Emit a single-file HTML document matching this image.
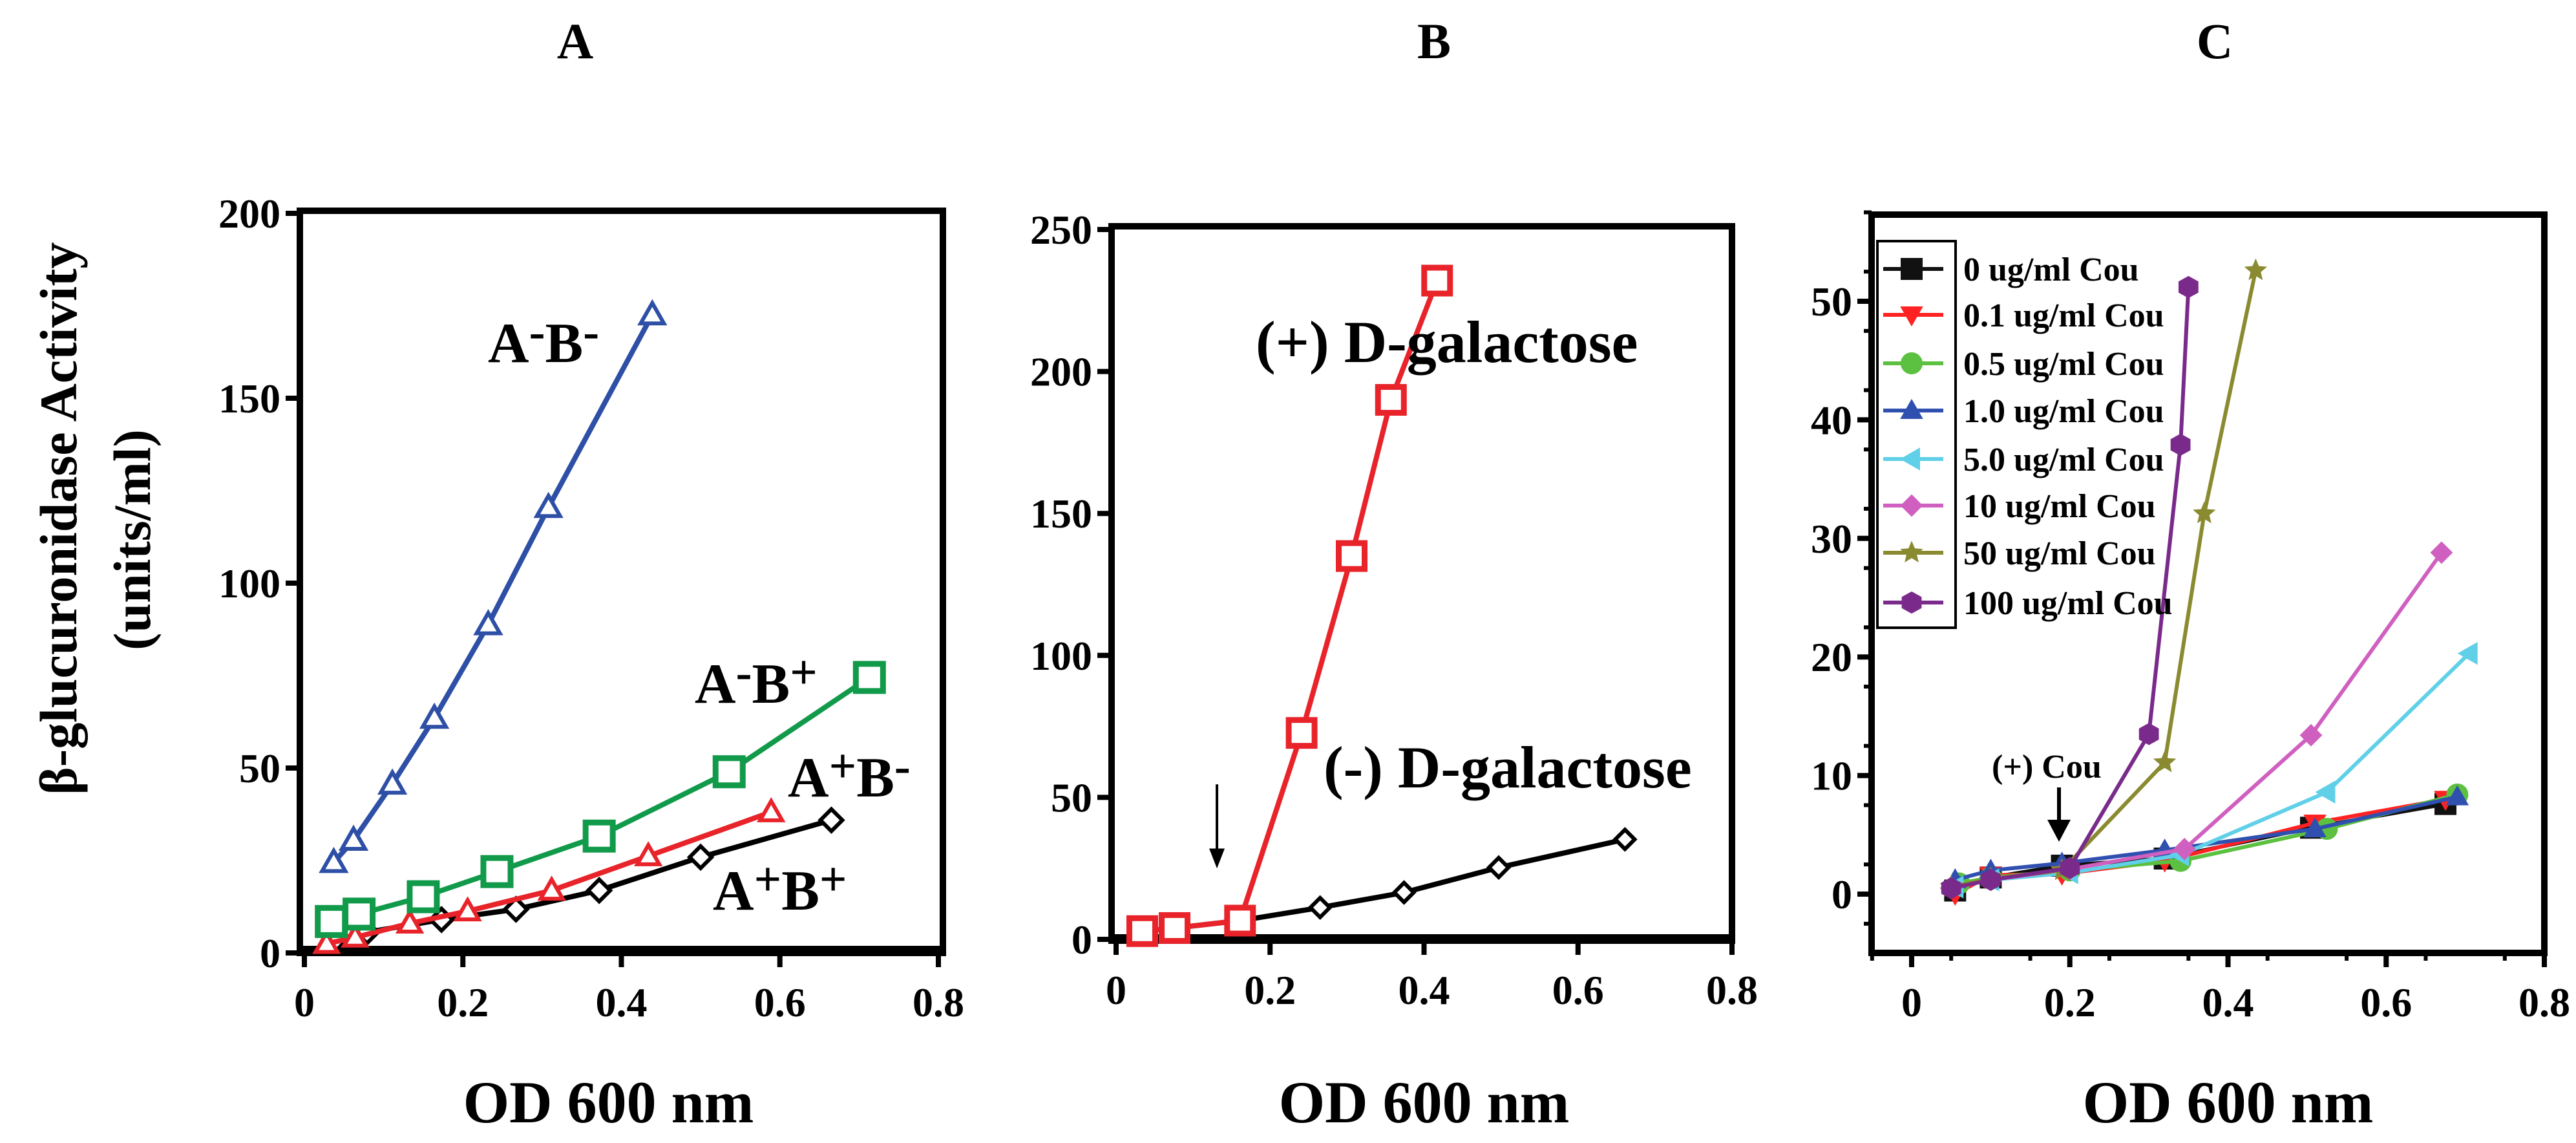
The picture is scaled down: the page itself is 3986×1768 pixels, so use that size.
<!DOCTYPE html>
<html><head><meta charset="utf-8"><style>
html,body{margin:0;padding:0;background:#fff}
svg{display:block}
text{font-family:"Liberation Serif",serif;font-weight:bold;fill:#000}
</style></head><body>
<svg id="fig" width="3986" height="1768" viewBox="0 0 3986 1768" xmlns="http://www.w3.org/2000/svg">
<text x="890" y="90" font-size="78" text-anchor="middle">A</text>
<text x="2219" y="90" font-size="78" text-anchor="middle">B</text>
<text x="3427" y="90" font-size="78" text-anchor="middle">C</text>
<text transform="translate(118,802) rotate(-90)" font-size="82" text-anchor="middle">β-glucuronidase Activity</text>
<text transform="translate(232,835) rotate(-90)" font-size="82" text-anchor="middle">(units/ml)</text>
</svg>
<script>
// Panel A data
const aXTicks = [0, 0.2, 0.4, 0.6, 0.8];
const aYTicks = [0, 50, 100, 150, 200];
const aAmBmX = [0.037, 0.062, 0.111, 0.164, 0.232, 0.308, 0.439];
const aAmBmY = [24.5, 30.5, 45.7, 63.5, 88.8, 120.5, 172.6];
const aAmBpX = [0.034, 0.069, 0.150, 0.243, 0.372, 0.536, 0.713];
const aAmBpY = [8.5, 10.5, 15.2, 22, 31.6, 49, 74.5];
const aApBmX = [0.028, 0.064, 0.133, 0.206, 0.312, 0.434, 0.589];
const aApBmY = [2.5, 4.2, 8, 11.3, 16.9, 26.2, 38.1];
const aApBpX = [0.039, 0.079, 0.173, 0.267, 0.372, 0.5, 0.665];
const aApBpY = [3.4, 5.6, 9, 11.8, 16.9, 25.9, 35.9];
// Panel B data
const bXTicks = [0, 0.2, 0.4, 0.6, 0.8];
const bYTicks = [0, 50, 100, 150, 200, 250];
const bPlusX = [0.034, 0.076, 0.161, 0.241, 0.306, 0.357, 0.417];
const bPlusY = [2.9, 4, 6.6, 72.7, 135, 190, 232];
const bMinusX = [0.034, 0.076, 0.161, 0.265, 0.374, 0.497, 0.661];
const bMinusY = [2.9, 4, 6.6, 11.2, 16.5, 25.3, 35.2];
// Panel C data
const cXTicks = [0, 0.2, 0.4, 0.6, 0.8];
const cYTicks = [0, 10, 20, 30, 40, 50];
const cLabels = ["0 ug/ml Cou","0.1 ug/ml Cou","0.5 ug/ml Cou","1.0 ug/ml Cou","5.0 ug/ml Cou","10 ug/ml Cou","50 ug/ml Cou","100 ug/ml Cou"];
const c0X = [0.055, 0.1, 0.19, 0.32, 0.505, 0.675];
const c0Y = [0.3, 1.4, 2.4, 3.0, 5.6, 7.6];
const c01X = [0.055, 0.1, 0.19, 0.32, 0.51, 0.675];
const c01Y = [0, 1.6, 1.7, 2.8, 6.0, 8.0];
const c05X = [0.06, 0.1, 0.2, 0.34, 0.525, 0.69];
const c05Y = [0.9, 1.4, 2.0, 2.8, 5.5, 8.4];
const c1X = [0.055, 0.1, 0.19, 0.32, 0.51, 0.69];
const c1Y = [1.2, 2.0, 2.6, 3.7, 5.5, 8.2];
const c5X = [0.055, 0.1, 0.2, 0.34, 0.525, 0.705];
const c5Y = [0.6, 1.2, 1.8, 3.3, 8.6, 20.3];
const c10X = [0.05, 0.1, 0.2, 0.345, 0.505, 0.67];
const c10Y = [0.5, 1.2, 2.1, 3.8, 13.4, 28.8];
const c50X = [0.05, 0.1, 0.19, 0.32, 0.37, 0.435];
const c50Y = [0.6, 1.3, 2.0, 11.1, 32.1, 52.6];
const c100X = [0.05, 0.1, 0.2, 0.30, 0.34, 0.35];
const c100Y = [0.5, 1.2, 2.2, 13.5, 37.9, 51.2];

const NS = "http://www.w3.org/2000/svg";
const svg = document.getElementById("fig");
function mk(tag, attrs, parent) {
  const e = document.createElementNS(NS, tag);
  for (const k in attrs) e.setAttribute(k, attrs[k]);
  (parent || svg).appendChild(e);
  return e;
}
function scale(d0, d1, r0, r1) { return v => r0 + (v - d0) * (r1 - r0) / (d1 - d0); }

function drawAxes(g, box, sx, sy, xt, yt, xfmt, prefix, minorY, minorX) {
  const r = mk("rect", {x: box.l, y: box.t, width: box.r - box.l, height: box.b - box.t, fill: "none", stroke: "#000", "stroke-width": 10}, g);
  
  
  xt.forEach(v => {
    const t = mk("line", {x1: sx(v), x2: sx(v), y1: box.b, y2: box.b + 22, stroke: "#000", "stroke-width": 8}, g);
    
    
    const l = mk("text", {x: sx(v), y: box.b + 98, "font-size": 64, "text-anchor": "middle"}, g);
    l.textContent = xfmt(v);
    
    
  });
  yt.forEach(v => {
    const t = mk("line", {x1: box.l - 22, x2: box.l, y1: sy(v), y2: sy(v), stroke: "#000", "stroke-width": 8}, g);
    
    
    const l = mk("text", {x: box.l - 30, y: sy(v) + 22, "font-size": 64, "text-anchor": "end"}, g);
    l.textContent = String(v);
    
    
  });
  if (minorY) minorY.forEach(v => {
    const t = mk("line", {x1: box.l - 12, x2: box.l, y1: sy(v), y2: sy(v), stroke: "#000", "stroke-width": 6}, g);
    
    
  });
  if (minorX) minorX.forEach(v => {
    const t = mk("line", {x1: sx(v), x2: sx(v), y1: box.b, y2: box.b + 12, stroke: "#000", "stroke-width": 6}, g);
    
    
  });
  const xt2 = mk("text", {x: (sx(0) + sx(0.8)) / 2 + (prefix === 'panel-a' ? -20 : 0), y: 1736, "font-size": 92, "text-anchor": "middle"}, g);
  xt2.textContent = "OD 600 nm";
  
  
}

function marker(g, shape, x, y, s, color, fill, sw) {
  let e;
  if (shape === "tri") e = mk("polygon", {points: `${x},${y - s} ${x - s},${y + s * 0.75} ${x + s},${y + s * 0.75}`}, g);
  else if (shape === "tridown") e = mk("polygon", {points: `${x},${y + s} ${x - s},${y - s * 0.75} ${x + s},${y - s * 0.75}`}, g);
  else if (shape === "trileft") e = mk("polygon", {points: `${x - s},${y} ${x + s * 0.75},${y - s} ${x + s * 0.75},${y + s}`}, g);
  else if (shape === "sq") e = mk("rect", {x: x - s, y: y - s, width: 2 * s, height: 2 * s}, g);
  else if (shape === "dia") e = mk("polygon", {points: `${x},${y - s} ${x + s},${y} ${x},${y + s} ${x - s},${y}`}, g);
  else if (shape === "circ") e = mk("circle", {cx: x, cy: y, r: s}, g);
  else if (shape === "hex") e = mk("polygon", {points: `${x},${y - s} ${x + s*0.9},${y - s*0.5} ${x + s*0.9},${y + s*0.5} ${x},${y + s} ${x - s*0.9},${y + s*0.5} ${x - s*0.9},${y - s*0.5}`}, g);
  else if (shape === "star") {
    let p = [];
    for (let i = 0; i < 10; i++) { const a = -Math.PI / 2 + i * Math.PI / 5; const rr = i % 2 ? s * 0.45 : s; p.push((x + rr * Math.cos(a)) + "," + (y + rr * Math.sin(a))); }
    e = mk("polygon", {points: p.join(" ")}, g);
  }
  e.setAttribute("fill", fill); e.setAttribute("stroke", color); e.setAttribute("stroke-width", sw);
  return e;
}

function series(g, xs, ys, sx, sy, color, shape, s, fill, lw, msw, name) {
  const pts = xs.map((v, i) => sx(v) + "," + sy(ys[i])).join(" ");
  const pl = mk("polyline", {points: pts, fill: "none", stroke: color, "stroke-width": lw, "stroke-linejoin": "round"}, g);
  
  
  xs.forEach((v, i) => {
    const m = marker(g, shape, sx(v), sy(ys[i]), s, color, fill, msw);
    
    
  });
}

function label(g, x, y, size, parts, name, anchor) {
  const t = mk("text", {x: x, y: y, "font-size": size, "text-anchor": anchor || "start"}, g);
  
  
  parts.forEach(p => {
    const ts = mk("tspan", p[1] ? {"baseline-shift": p[1] === "sup" ? "30%" : "20%", "font-size": size * 0.85} : {}, t);
    ts.textContent = p[0];
  });
}

// ---------- Panel A ----------
const gA = mk("g", {});


const boxA = {l: 464, r: 1459, t: 326, b: 1474};
const sxA = scale(0, 0.8, 471, 1452), syA = scale(0, 200, 1474, 330);
drawAxes(gA, boxA, sxA, syA, aXTicks, aYTicks, v => v === 0 ? "0" : v.toFixed(1), "panel-a");
mk("line", {x1: boxA.l, x2: boxA.r, y1: 1470, y2: 1470, stroke: "#000", "stroke-width": 14}, gA);
series(gA, aApBpX, aApBpY, sxA, syA, "#000", "dia", 17, "#fff", 8, 6, "a-plus-b-plus");
series(gA, aApBmX, aApBmY, sxA, syA, "#e8232a", "tri", 17, "#fff", 8, 6, "a-plus-b-minus");
series(gA, aAmBpX, aAmBpY, sxA, syA, "#119a4a", "sq", 21, "#fff", 8, 9, "a-minus-b-plus");
series(gA, aAmBmX, aAmBmY, sxA, syA, "#2e4fa6", "tri", 18, "#fff", 8, 6, "a-minus-b-minus");
label(gA, 755, 560, 88, [["A"], ["-", "sup"], ["B"], ["-", "sup"]], "label-a-minus-b-minus");
label(gA, 1075, 1087, 88, [["A"], ["-", "sup"], ["B"], ["+", "sup"]], "label-a-minus-b-plus");
label(gA, 1219, 1232, 88, [["A"], ["+", "sup"], ["B"], ["-", "sup"]], "label-a-plus-b-minus");
label(gA, 1103, 1407, 88, [["A"], ["+", "sup"], ["B"], ["+", "sup"]], "label-a-plus-b-plus");

// ---------- Panel B ----------
const gB = mk("g", {});


const boxB = {l: 1720, r: 2680, t: 350, b: 1455};
const sxB = scale(0, 0.8, 1727, 2680), syB = scale(0, 250, 1453, 355);
drawAxes(gB, boxB, sxB, syB, bXTicks, bYTicks, v => v === 0 ? "0" : v.toFixed(1), "panel-b");
mk("line", {x1: boxB.l, x2: boxB.r, y1: 1452, y2: 1452, stroke: "#000", "stroke-width": 14}, gB);
series(gB, bMinusX, bMinusY, sxB, syB, "#000", "dia", 15, "#fff", 8, 6, "minus-galactose");
series(gB, bPlusX, bPlusY, sxB, syB, "#e8232a", "sq", 20, "#fff", 8, 9, "plus-galactose");
const arB = mk("line", {x1: sxB(0.131), x2: sxB(0.131), y1: syB(54.6), y2: syB(30), stroke: "#000", "stroke-width": 4}, gB);


mk("polygon", {points: `${sxB(0.131)-12},${syB(32)} ${sxB(0.131)+12},${syB(32)} ${sxB(0.131)},${syB(25)}`, fill: "#000"}, gB);
label(gB, 1943, 560, 92, [["(+) D-galactose"]], "label-plus-galactose");
label(gB, 2048, 1218, 92, [["(-) D-galactose"]], "label-minus-galactose");

// ---------- Panel C ----------
const gC = mk("g", {});


const boxC = {l: 2896, r: 3937, t: 332, b: 1474};
const sxC = scale(0, 0.8, 2958, 3937), syC = scale(0, 50, 1383, 466);
const cMinorY = [], cMinorX = [];
for (let v = -2.5; v <= 57.5; v += 5) cMinorY.push(v);
for (let v = -0.05; v <= 0.8; v += 0.1) cMinorX.push(v);
drawAxes(gC, boxC, sxC, syC, cXTicks, cYTicks, v => v === 0 ? "0" : v.toFixed(1), "panel-c", cMinorY, cMinorX);
const cColors = ["#111", "#ff2222", "#5cc040", "#3050b0", "#60d0e8", "#d060c0", "#8a8a30", "#7a2a8a"];
const cShapes = ["sq", "tridown", "circ", "tri", "trileft", "dia", "star", "hex"];
const cX = [c0X, c01X, c05X, c1X, c5X, c10X, c50X, c100X];
const cY = [c0Y, c01Y, c05Y, c1Y, c5Y, c10Y, c50Y, c100Y];
cX.forEach((xs, i) => series(gC, xs, cY[i], sxC, syC, cColors[i], cShapes[i], 16, cColors[i], 6, 2, "series-" + cLabels[i].split(" ")[0].replace(".", "p") + "-ug"));
const leg = mk("g", {}, gC);


mk("rect", {x: 2905, y: 373, width: 121, height: 598, fill: "#fff", stroke: "#000", "stroke-width": 4}, leg);
const legY = [416, 487, 562, 635, 710, 782, 855, 932];
cLabels.forEach((lab, i) => {
  const ln = mk("line", {x1: 2914, x2: 3007, y1: legY[i], y2: legY[i], stroke: cColors[i], "stroke-width": 6}, leg);
  
  
  const m = marker(leg, cShapes[i], 2958, legY[i], 16, cColors[i], cColors[i], 2);
  
  
  const t = mk("text", {x: 3038, y: legY[i] + 18, "font-size": 52}, leg);
  t.textContent = lab;
  
  
});
label(gC, 3082, 1203, 52, [["(+) Cou"]], "label-plus-cou");
const arC = mk("line", {x1: 3186, x2: 3186, y1: 1218, y2: 1280, stroke: "#000", "stroke-width": 6}, gC);


mk("polygon", {points: "3168,1268 3204,1268 3186,1302", fill: "#000"}, gC);
</script>
</body></html>
